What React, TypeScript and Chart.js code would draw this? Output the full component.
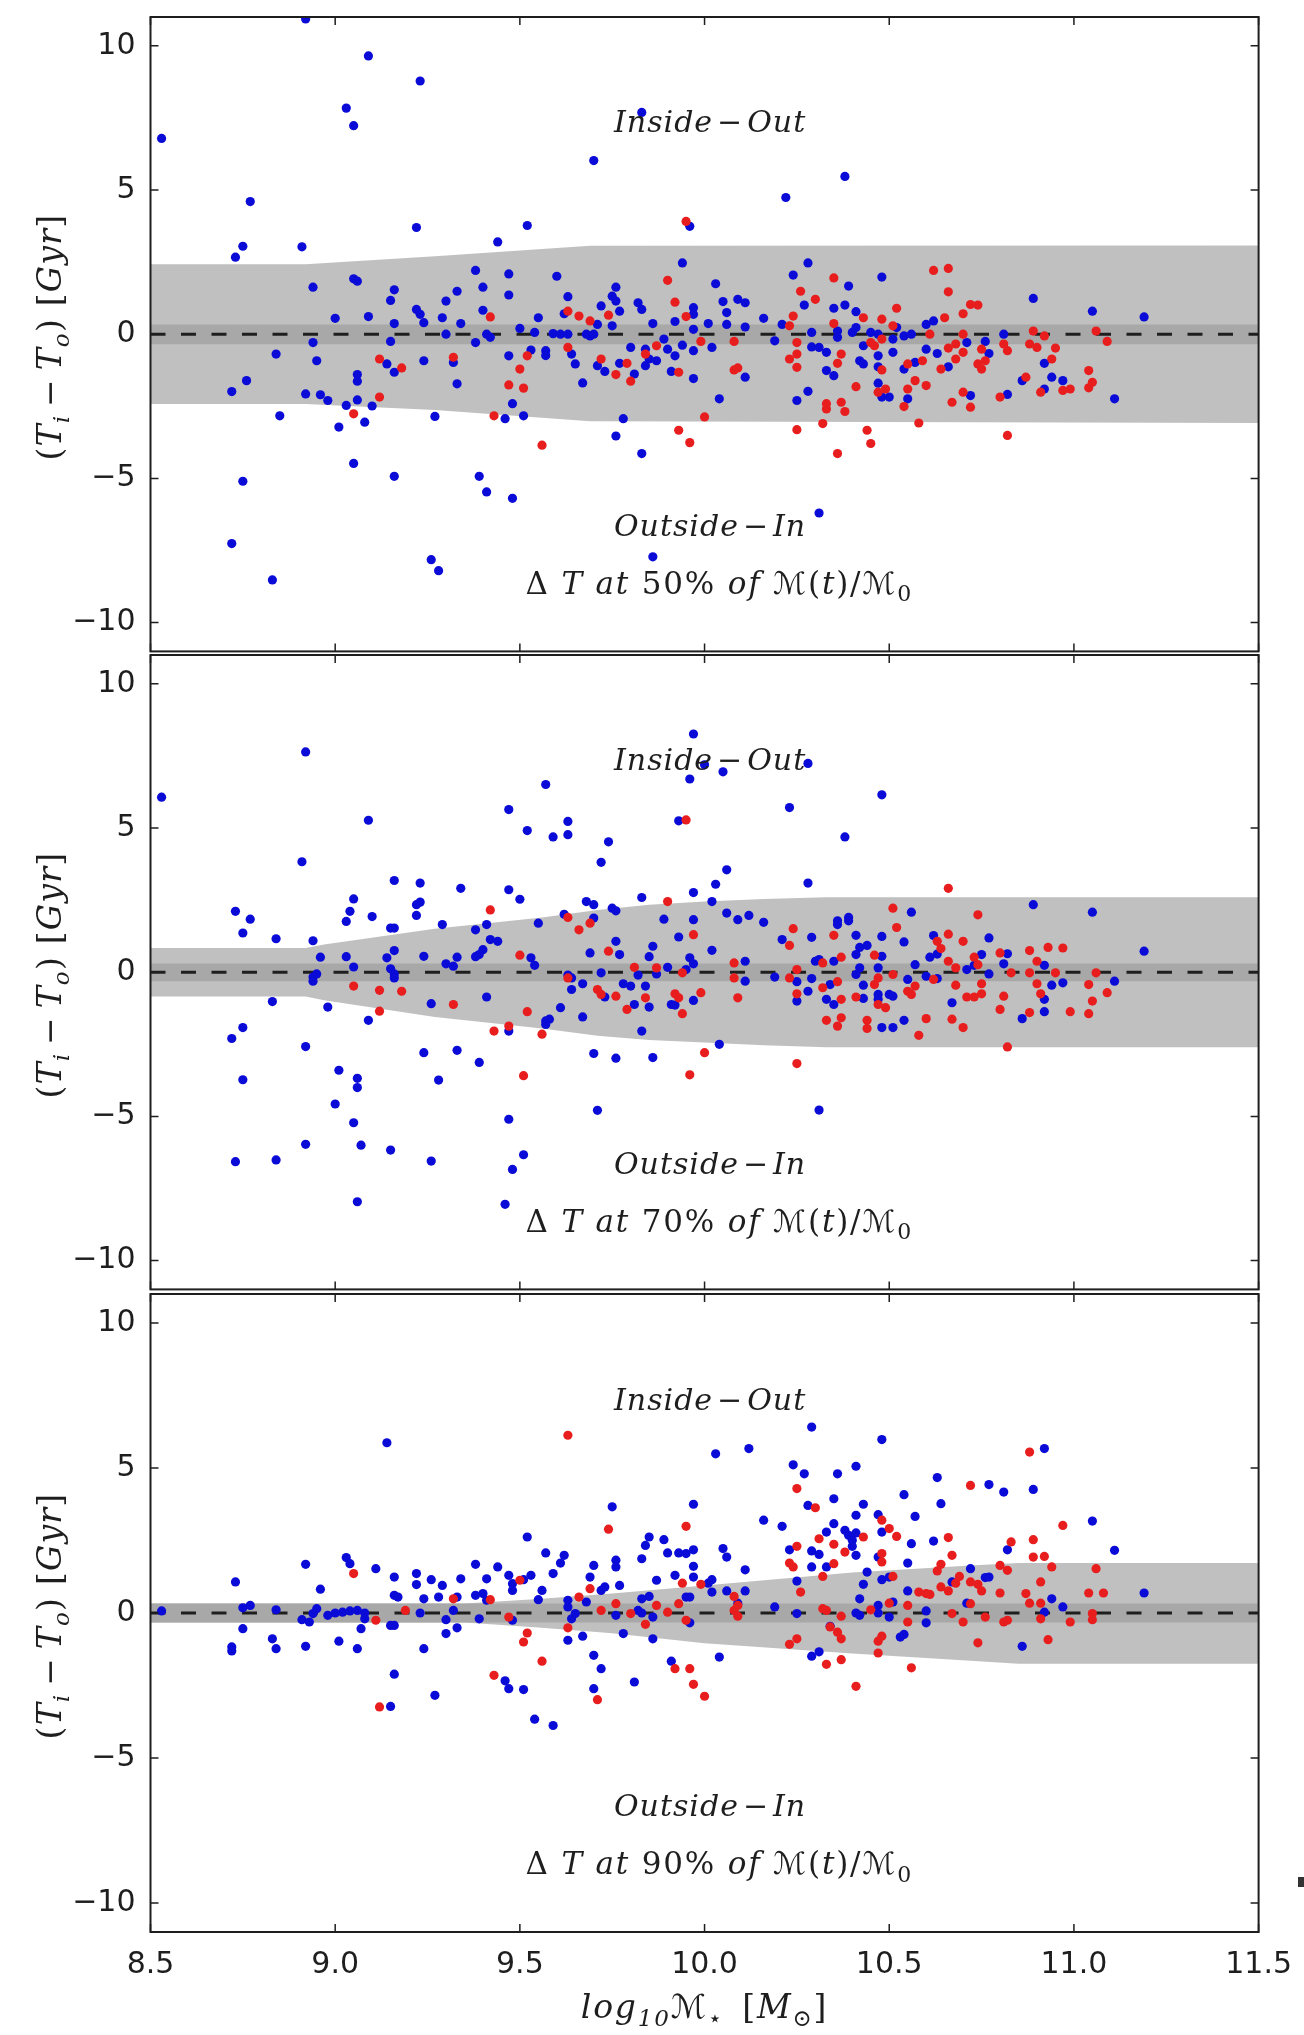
import React, { useEffect, useRef } from 'react';
import { Chart, registerables } from 'chart.js';

Chart.register(...registerables);

type Pt = [number, number];

// ---------------- axes ----------------
const X_MIN = 8.5;
const X_MAX = 11.5;
const Y_MIN = -11;
const Y_MAX = 11;
const X_TICKS = [8.5, 9.0, 9.5, 10.0, 10.5, 11.0, 11.5];
const X_TICK_LABELS = ['8.5', '9.0', '9.5', '10.0', '10.5', '11.0', '11.5'];
const Y_TICKS = [-10, -5, 0, 5, 10];
const Y_TICK_LABELS = ['\u221210', '\u22125', '0', '5', '10'];
const FRACTION_LABELS = ['50%', '70%', '90%'];

// ---------------- shaded bands ----------------
const P1_BAND_X = [8.5, 8.92, 9.27, 9.69, 11.5];
const P1_BAND_UP = [2.43, 2.43, 2.7, 3.07, 3.08];
const P1_BAND_LO = [-2.42, -2.42, -2.63, -3.02, -3.08];
const P1_INNER = [0.34, -0.35];

const P2_BAND_X = [8.5, 8.92, 8.97, 9.27, 9.56, 9.71, 9.85, 10.0, 10.16, 10.33, 11.5];
const P2_BAND_UP = [0.84, 0.84, 0.96, 1.51, 1.9, 2.16, 2.34, 2.45, 2.54, 2.6, 2.6];
const P2_BAND_LO = [-0.84, -0.84, -0.97, -1.55, -1.95, -2.2, -2.35, -2.44, -2.53, -2.6, -2.6];
const P2_INNER = [0.3, -0.31];

const P3_BAND_X = [8.5, 9.35, 9.55, 9.75, 10.0, 10.4, 10.72, 10.85, 11.5];
const P3_BAND_UP = [0.33, 0.33, 0.48, 0.67, 0.95, 1.4, 1.64, 1.72, 1.72];
const P3_BAND_LO = [-0.33, -0.33, -0.5, -0.7, -1.04, -1.4, -1.65, -1.75, -1.75];
const P3_INNER = [0.33, -0.33];

// ---------------- scatter points: [log10 M*, Ti - To] ----------------
const P1_BLUE: Pt[] = [
  [8.92, 10.93], [8.53, 6.79], [9.09, 9.65], [9.23, 8.78], [9.03, 7.84], [9.05, 7.23], [9.83, 7.69], [9.70, 6.02], [8.77, 4.60], [10.22, 4.74], [10.38, 5.47],
  [8.75, -5.10], [9.16, -4.93], [9.39, -4.93], [9.41, -5.47], [9.48, -5.69], [8.72, -7.26], [9.26, -7.82], [9.28, -8.20], [8.83, -8.52], [9.86, -7.72], [10.31, -6.20],
  [8.73, 2.67], [8.75, 3.05], [8.91, 3.03], [9.22, 3.70], [9.52, 3.77], [9.44, 3.20], [8.94, 1.63], [9.05, 1.92], [9.06, 1.84], [9.00, 0.55], [9.09, 0.61], [8.84, -0.69], [8.94, -0.29], [8.95, -0.92], [8.76, -1.61], [8.72, -1.99], [8.85, -2.83], [8.92, -2.07], [8.96, -2.10], [8.98, -2.30], [9.03, -2.47], [9.06, -2.28], [9.06, -1.40], [9.06, -1.63], [9.10, -2.49], [9.08, -3.05], [9.01, -3.22], [9.05, -4.48],
  [9.16, 1.54], [9.15, 1.17], [9.16, 0.37], [9.15, -0.25], [9.14, -1.03], [9.16, -1.32], [9.22, 0.86], [9.23, 0.69], [9.24, 0.40], [9.24, -0.92], [9.27, -2.85], [9.29, 0.57], [9.30, 1.15], [9.33, 1.49], [9.34, 0.37], [9.30, 0.00], [9.32, -0.98], [9.33, -1.72],
  [9.38, 2.21], [9.40, 1.63], [9.40, 0.83], [9.38, -0.29], [9.41, 0.00], [9.42, -0.11], [9.47, 2.09], [9.47, 1.36], [9.47, -0.75], [9.46, -2.93], [9.48, -2.41], [9.51, -2.83], [9.50, 0.20], [9.54, 0.06], [9.53, -0.55], [9.55, 0.57], [9.57, -0.57], [9.57, -0.74],
  [9.60, 2.01], [9.63, 1.30], [9.62, 0.71], [9.59, 0.02], [9.61, 0.00], [9.63, 0.00], [9.64, -0.69], [9.65, -1.03], [9.67, -1.69], [9.68, 0.00], [9.69, -0.06], [9.70, 0.00], [9.72, 0.98], [9.71, 0.34], [9.71, -1.09], [9.73, -1.29], [9.75, 0.29], [9.76, 1.63], [9.75, 1.32], [9.76, 1.15], [9.77, 0.80], [9.80, -0.46], [9.77, -1.01], [9.81, -1.38], [9.78, -2.93], [9.76, -3.53], [9.83, -4.14],
  [9.82, 1.09], [9.83, 0.86], [9.86, 0.37], [9.84, -0.52], [9.85, -0.86], [9.84, -1.09], [9.87, -0.92], [9.89, -0.17], [9.90, -0.52], [9.92, -0.75], [9.91, -1.29], [9.92, 0.44], [9.94, 2.47], [9.97, 0.92], [9.97, 0.69], [9.97, 0.17], [9.94, -0.38], [9.97, -0.57], [9.97, -1.54], [10.01, 0.37], [9.96, 3.74],
  [10.03, 1.75], [10.05, 1.13], [10.06, 0.75], [10.09, 1.21], [10.11, 1.09], [10.06, 0.34], [10.11, 0.25], [10.16, 0.55], [10.21, 0.34], [10.19, -0.23], [10.02, -0.46], [10.11, -1.49], [10.04, -2.24], [10.24, 2.05], [10.28, 2.47], [10.27, 1.01], [10.29, 0.06], [10.29, -0.44], [10.31, -0.46], [10.33, -0.63], [10.33, -1.26], [10.35, -1.44], [10.28, -1.98], [10.25, -2.30],
  [10.35, 0.90], [10.38, 1.01], [10.39, 1.67], [10.41, 0.78], [10.36, 0.11], [10.36, -0.11], [10.40, 0.06], [10.41, 0.23], [10.45, 0.06], [10.47, 0.00], [10.48, 1.98], [10.42, -0.92], [10.43, -1.03], [10.43, -0.40], [10.47, -0.75], [10.47, -1.13], [10.51, -0.63], [10.52, 0.23], [10.51, -0.17], [10.54, -0.06], [10.56, 0.00], [10.47, -1.70], [10.48, -2.18], [10.50, -2.18], [10.54, -1.21], [10.55, -2.24], [10.57, -0.98],
  [10.60, 0.34], [10.62, 0.46], [10.60, -0.52], [10.63, -0.67], [10.66, -1.13], [10.71, -0.29], [10.76, -0.25], [10.77, -0.67], [10.81, 0.00], [10.82, -2.09], [10.72, -2.13], [10.86, -1.61], [10.89, 1.24], [10.92, -1.01], [10.94, -1.49], [10.92, -1.90], [10.97, -1.61], [11.05, 0.80], [11.11, -2.24], [11.19, 0.60],
];

const P1_RED: Pt[] = [
  [9.95, 3.91], [9.42, 0.60], [9.12, -0.86], [9.18, -1.17], [9.12, -2.18], [9.05, -2.76], [9.32, -0.80], [9.63, 0.80], [9.66, 0.63], [9.69, 0.46], [9.74, 0.66], [9.63, -0.46], [9.52, -0.75], [9.50, -1.21], [9.47, -1.76], [9.51, -1.87], [9.43, -2.83], [9.56, -3.85], [9.72, -0.86], [9.76, -1.40], [9.79, -1.01], [9.80, -1.63], [9.84, -0.69], [9.87, -0.40], [9.90, 1.87], [9.92, 1.11], [9.95, 0.61], [9.99, -0.25], [9.93, -1.32], [10.00, -2.87], [9.93, -3.33], [9.96, -3.76],
  [10.08, -0.25], [10.08, -1.24], [10.09, -1.17], [10.26, 1.49], [10.24, 0.63], [10.23, 0.29], [10.30, 1.21], [10.25, -0.29], [10.25, -0.69], [10.23, -0.86], [10.25, -1.15], [10.35, 1.95], [10.35, 0.37], [10.37, -0.69], [10.36, -1.01], [10.33, -2.41], [10.33, -2.59], [10.37, -2.36], [10.38, -2.68], [10.32, -3.10], [10.25, -3.31], [10.36, -4.14], [10.41, -1.82],
  [10.43, 0.57], [10.48, 0.52], [10.45, -0.29], [10.46, -0.40], [10.48, -0.17], [10.51, 0.29], [10.52, 0.90], [10.48, -1.24], [10.47, -2.01], [10.49, -1.90], [10.44, -3.33], [10.45, -3.79], [10.54, -2.51], [10.55, -1.90], [10.57, -1.61], [10.60, -1.78], [10.58, -3.08], [10.59, -0.92], [10.55, -1.03], [10.61, 0.00],
  [10.62, 2.21], [10.66, 2.28], [10.66, 1.47], [10.65, 0.57], [10.64, -1.21], [10.66, -0.48], [10.68, -0.34], [10.70, 0.00], [10.70, 0.71], [10.68, -0.86], [10.70, -0.63], [10.70, -2.01], [10.72, 1.03], [10.74, 1.01], [10.75, -0.52], [10.74, -1.03], [10.76, -0.92], [10.75, -1.21], [10.67, -2.36], [10.72, -2.53], [10.80, -2.18], [10.81, -0.34], [10.82, -0.57], [10.82, -3.51],
  [10.88, -0.34], [10.89, 0.11], [10.92, -0.06], [10.90, -0.46], [10.95, -0.48], [10.94, -0.86], [10.87, -1.49], [10.91, -2.01], [10.97, -1.95], [10.99, -1.90], [11.04, -1.26], [11.05, -1.67], [11.04, -1.86], [11.06, 0.11], [11.09, -0.25],
];

const P2_BLUE: Pt[] = [
  [8.53, 6.07], [8.92, 7.64], [9.09, 5.27], [9.57, 6.51], [9.47, 5.64], [9.52, 4.91], [9.59, 4.69], [9.63, 4.77], [9.63, 5.23], [9.74, 4.52], [9.97, 8.26], [10.00, 7.19], [10.05, 6.95], [9.96, 6.70], [10.28, 7.24], [10.48, 6.15], [10.23, 5.71], [9.93, 5.25], [10.38, 4.69],
  [9.00, -4.57], [9.05, -5.22], [9.07, -6.00], [8.92, -5.97], [8.73, -6.57], [8.84, -6.51], [9.15, -6.17], [9.26, -6.55], [9.06, -7.96], [9.47, -5.10], [9.51, -6.33], [9.48, -6.84], [9.46, -8.05], [9.71, -4.79], [10.31, -4.78],
  [8.91, 3.83], [9.72, 3.81], [9.16, 3.18], [9.23, 3.09], [9.34, 2.91], [9.47, 2.86], [9.50, 2.53], [9.05, 2.54], [9.04, 2.11], [9.03, 1.76], [9.10, 1.93], [9.22, 2.34], [9.23, 2.43], [9.22, 1.97], [8.73, 2.11], [8.77, 1.84], [8.75, 1.36], [8.84, 1.16], [8.94, 1.09], [8.96, 0.52], [9.03, 0.54], [9.05, 0.18], [8.95, -0.06], [8.94, -0.17], [8.94, -0.31],
  [9.15, 1.53], [9.16, 1.53], [9.16, 0.75], [9.14, 0.50], [9.15, 0.12], [9.16, -0.06], [9.16, -0.20], [9.24, 0.55], [9.29, 1.65], [9.38, 1.47], [9.41, 1.65], [9.42, 1.13], [9.44, 1.07], [9.40, 0.78], [9.39, 0.61], [9.38, 0.54], [9.33, 0.52], [9.30, 0.29], [9.32, 0.21], [9.55, 1.70], [9.53, 0.50], [9.54, 0.24],
  [9.62, 2.01], [9.68, 2.45], [9.70, 2.34], [9.70, 1.88], [9.69, 0.67], [9.63, -0.10], [9.64, -0.20], [9.67, -0.40], [9.64, -0.60], [9.72, -0.02], [9.75, 2.22], [9.76, 2.13], [9.83, 2.59], [9.89, 1.84], [9.93, 1.22], [9.97, 1.82], [9.97, 2.76], [9.86, 0.90], [9.85, 0.54], [9.76, 1.07], [9.77, 0.61], [9.82, -0.10], [9.78, -0.40], [9.80, -0.48], [9.84, -0.48], [9.90, 0.17], [9.87, -0.06], [9.96, 0.50], [9.97, 0.29], [9.95, 0.09],
  [9.81, -1.12], [9.85, -1.21], [9.91, -1.12], [9.92, -1.14], [9.97, -0.98], [9.73, -0.86], [9.61, -1.23], [9.67, -1.55], [9.58, -1.63], [9.57, -1.69], [9.57, -1.81], [9.83, -2.04], [9.47, -2.04], [9.41, -0.86], [9.26, -1.09], [8.98, -1.21], [8.83, -1.02], [8.75, -1.92], [8.72, -2.30], [8.92, -2.58], [9.09, -1.67], [9.24, -2.79], [9.33, -2.71], [9.39, -3.13], [9.01, -3.40], [9.06, -3.68], [9.06, -4.00], [8.75, -3.73], [9.28, -3.74], [9.70, -2.82], [9.76, -2.98], [9.86, -2.96],
  [10.06, 3.55], [10.03, 3.05], [10.02, 2.45], [10.28, 3.09], [10.06, 2.05], [10.09, 1.82], [10.12, 1.97], [10.16, 1.73], [10.02, 0.76], [10.11, 0.38], [10.11, -0.31], [10.19, -0.17], [10.21, 1.13], [10.29, 1.21], [10.25, -0.33], [10.28, -0.66], [10.25, -1.00], [10.29, -0.22], [10.30, 0.38], [10.31, 0.44], [10.35, 0.38], [10.36, 1.65], [10.36, 1.78], [10.39, 1.90], [10.39, 1.78], [10.41, 1.28], [10.42, 0.86], [10.44, 0.93], [10.41, 0.61], [10.42, 0.15], [10.41, -0.08], [10.34, -0.43], [10.33, -0.94], [10.35, -1.12],
  [10.43, -0.45], [10.43, -0.91], [10.47, 0.15], [10.48, 0.55], [10.48, 1.24], [10.47, -0.77], [10.47, -0.94], [10.50, -0.77], [10.51, -0.83], [10.48, -1.92], [10.51, -1.92], [10.54, -1.67], [10.54, 1.05], [10.56, 2.08], [10.55, -0.25], [10.57, 0.26], [10.60, -0.14], [10.61, 0.52], [10.62, 1.27], [10.63, 0.63], [10.63, -0.22], [10.67, -1.06],
  [10.71, 0.09], [10.73, 0.24], [10.75, 0.61], [10.77, 1.19], [10.77, -0.06], [10.81, 0.29], [10.82, 0.64], [10.86, -1.61], [10.89, 2.34], [10.92, 0.24], [10.94, -0.45], [10.92, -0.94], [10.92, -1.37], [10.97, -0.37], [11.05, 2.08], [11.11, -0.31], [11.19, 0.73], [10.04, -2.50],
];

const P2_RED: Pt[] = [
  [9.95, 5.28],
  [9.42, 2.16], [9.63, 1.90], [9.66, 1.47], [9.69, 1.70], [9.50, 0.59], [9.74, 0.73], [9.90, 2.45], [9.97, 1.30], [9.81, 0.17], [9.87, 0.15], [9.94, -0.02], [9.63, -0.20], [9.71, -0.60], [9.72, -0.77], [9.76, -0.83], [9.79, -1.29], [9.84, -0.89], [9.92, -0.75], [9.93, -0.89], [9.94, -1.44], [9.99, -0.71], [10.00, -2.79], [9.96, -3.56], [9.05, -0.48], [9.12, -0.63], [9.18, -0.66], [9.12, -1.35], [9.32, -1.12], [9.52, -1.37], [9.43, -2.04], [9.47, -1.87], [9.56, -2.15], [9.51, -3.59],
  [10.08, 0.32], [10.08, -0.20], [10.09, -0.89], [10.24, 1.51], [10.23, 0.93], [10.25, 0.09], [10.23, -0.20], [10.25, -0.75], [10.35, 1.28], [10.37, 0.52], [10.32, 0.32], [10.32, -0.54], [10.36, -0.33], [10.37, -0.94], [10.33, -1.67], [10.36, -1.87], [10.37, -1.58], [10.44, -1.67], [10.44, -1.95], [10.41, -0.86], [10.46, 0.59], [10.47, -0.20], [10.46, -0.43], [10.47, -1.12], [10.49, -1.23],
  [10.51, 2.22], [10.52, 1.55], [10.51, -0.08], [10.55, -0.66], [10.57, -0.48], [10.56, -0.77], [10.60, -1.61], [10.58, -2.19], [10.62, -0.25], [10.63, 1.07], [10.64, 0.82], [10.66, 1.32], [10.66, 2.91], [10.66, 0.38], [10.68, 0.15], [10.70, 1.07], [10.68, -0.45], [10.67, -1.63], [10.70, -1.92], [10.71, -0.86], [10.73, -0.86],
  [10.74, 1.99], [10.73, 0.52], [10.74, 0.26], [10.75, -0.40], [10.75, -0.75], [10.80, 0.67], [10.81, -0.83], [10.80, -1.29], [10.82, -2.59], [10.83, -0.02], [10.88, -1.40], [10.88, 0.75], [10.90, 0.38], [10.88, -0.02], [10.93, 0.86], [10.97, 0.84], [10.95, -0.02], [10.90, -0.40], [10.91, -0.75], [10.99, -1.37], [11.04, -0.43], [11.05, -1.00], [11.04, -1.44], [11.09, -0.71], [11.06, -0.02], [10.25, -3.17],
];

const P3_BLUE: Pt[] = [
  [9.14, 5.87], [8.53, 0.07], [8.73, 1.07], [8.75, 0.18], [8.77, 0.26], [8.75, -0.54], [8.72, -1.17], [8.72, -1.31], [8.84, 0.11], [8.83, -0.89], [8.84, -1.23], [8.92, 1.68], [8.96, 0.82], [8.91, -0.23], [8.93, -0.31], [8.95, 0.15], [8.94, -0.02], [8.92, -1.15], [8.98, -0.08], [9.00, 0.00], [9.02, 0.03], [9.04, 0.07], [9.06, 0.09], [9.08, 0.00], [9.08, -0.20], [9.01, -0.97], [9.03, 1.91], [9.04, 1.70], [9.07, -0.54], [9.06, -1.23], [9.11, 1.53], [9.16, 1.24], [9.16, 0.61], [9.17, 0.55], [9.15, -0.43], [9.16, -0.43], [9.16, -2.11], [9.15, -3.22],
  [9.22, 1.36], [9.22, 0.98], [9.23, 0.00], [9.24, 0.49], [9.24, -1.23], [9.26, 1.15], [9.29, 0.95], [9.28, 0.55], [9.27, -2.84], [9.34, 1.18], [9.33, 0.55], [9.32, 0.09], [9.30, -0.23], [9.30, -0.71], [9.33, -0.51], [9.38, 1.68], [9.38, 0.61], [9.41, 1.18], [9.40, 0.67], [9.41, 0.44], [9.39, -0.20], [9.44, 1.59], [9.47, 1.30], [9.48, 1.01], [9.48, 0.78], [9.48, -0.25], [9.51, 1.15], [9.53, 1.30], [9.52, 2.62], [9.57, 2.07], [9.56, 0.78], [9.55, 0.46], [9.62, 1.99], [9.61, 1.72], [9.59, 1.36], [9.63, 0.44], [9.63, 0.21], [9.65, -0.02], [9.64, -0.20], [9.63, -0.94], [9.67, -0.80],
  [9.70, 1.64], [9.69, 1.24], [9.72, 0.78], [9.73, 0.90], [9.68, 0.38], [9.75, 3.66], [9.76, 1.82], [9.76, 1.59], [9.77, 0.95], [9.76, -0.08], [9.78, -0.71], [9.83, 1.87], [9.84, 2.33], [9.85, 2.62], [9.89, 2.53], [9.90, 2.07], [9.87, 1.13], [9.85, 0.57], [9.83, 0.49], [9.82, 0.09], [9.83, 0.00], [9.86, -0.14], [9.86, -0.89], [9.92, 1.30], [9.93, 2.07], [9.95, 2.05], [9.97, 2.18], [9.97, 1.61], [9.97, 1.24], [9.97, 3.75], [9.95, 0.55], [9.96, 0.55], [9.96, -0.34], [9.70, -1.46], [9.72, -1.92], [9.70, -2.61], [9.81, -2.38], [9.91, -1.66], [9.51, -2.64], [9.47, -2.61], [9.46, -2.34], [10.01, 1.03], [9.54, -3.66], [9.59, -3.88],
  [10.03, 5.49], [10.12, 5.67], [10.29, 6.41], [10.48, 5.98], [10.24, 5.11], [10.27, 4.80], [10.36, 4.80], [10.41, 5.06], [10.35, 3.94], [10.28, 3.71], [10.43, 3.75], [10.47, 3.39], [10.41, 3.37], [10.54, 4.08], [10.63, 4.67], [10.64, 3.77], [10.57, 3.33], [10.77, 4.43], [10.81, 4.17], [10.89, 4.26], [10.92, 5.67], [11.05, 3.17], [11.11, 2.16], [11.19, 0.69], [10.16, 3.20], [10.21, 2.99],
  [10.05, 2.22], [10.06, 1.93], [10.11, 1.49], [10.02, 1.15], [10.02, 0.72], [10.06, 0.76], [10.11, 0.76], [10.09, 0.34], [10.19, 0.21], [10.25, -0.02], [10.23, 2.18], [10.29, 2.14], [10.31, 2.02], [10.29, 1.59], [10.33, 1.59], [10.25, 1.10], [10.33, 2.79], [10.35, 3.08], [10.38, 2.85], [10.39, 2.68], [10.40, 2.51], [10.40, 2.30], [10.41, 2.76], [10.41, 1.99], [10.47, 1.93], [10.48, 2.79], [10.56, 2.39], [10.62, 2.48], [10.55, 1.72],
  [10.44, 1.41], [10.43, 0.99], [10.42, 0.49], [10.48, 1.15], [10.50, 1.24], [10.55, 0.76], [10.51, 0.38], [10.41, 0.00], [10.42, -0.08], [10.47, 0.26], [10.47, 0.00], [10.50, -0.14], [10.60, 0.07], [10.60, -0.34], [10.34, -0.46], [10.53, -0.83], [10.54, -0.74], [10.29, -1.49], [10.31, -1.34], [10.04, -1.52], [10.67, 1.07], [10.72, 1.53], [10.71, 0.34], [10.76, 1.22], [10.77, 1.24], [10.82, 2.18], [10.94, 0.49], [10.97, 0.21], [10.92, 0.03], [10.86, -1.15],
];

const P3_RED: Pt[] = [
  [9.63, 6.13], [9.05, 1.36], [9.19, 0.09], [9.11, -0.25], [9.32, 0.49], [9.42, 0.46], [9.50, 1.13], [9.47, -0.14], [9.52, -0.69], [9.51, -1.00], [9.56, -1.66], [9.43, -2.15], [9.12, -3.24], [9.66, 0.55], [9.63, -0.51], [9.69, 0.84], [9.72, 0.09], [9.76, 0.32], [9.74, 2.89], [9.80, -0.02], [9.84, -0.39], [9.87, 0.26], [9.90, 0.03], [9.93, 0.32], [9.95, -0.25], [9.94, 1.03], [9.99, 0.99], [9.95, 2.99], [9.92, -1.92], [9.96, -1.92], [9.97, -2.46], [10.00, -2.87], [9.71, -2.99],
  [10.25, 4.29], [10.30, 3.63], [10.31, 2.56], [10.35, 2.37], [10.38, 2.10], [10.35, 1.70], [10.32, 1.26], [10.43, 2.62], [10.48, 3.20], [10.50, 2.91], [10.52, 2.64], [10.48, 2.05], [10.48, 1.76], [10.51, 1.26], [10.66, 2.60], [10.67, 1.99], [10.64, 1.68], [10.63, 1.45], [10.23, 1.72], [10.24, 1.59], [10.25, 2.30], [10.26, 0.72],
  [10.08, 0.57], [10.09, 0.26], [10.08, 0.09], [10.09, -0.11], [10.32, 0.15], [10.33, 0.09], [10.37, -0.11], [10.45, 0.11], [10.50, 0.34], [10.55, 0.26], [10.55, -0.31], [10.34, -0.48], [10.36, -0.66], [10.37, -0.89], [10.48, -0.80], [10.47, -0.97], [10.47, -1.38], [10.25, -0.89], [10.23, -1.08], [10.33, -1.77], [10.37, -1.61], [10.41, -2.53], [10.56, -1.89],
  [10.58, 0.72], [10.60, 0.67], [10.61, 0.64], [10.64, 0.90], [10.66, 0.76], [10.68, 1.03], [10.69, 1.26], [10.72, 1.07], [10.74, 0.99], [10.75, 0.76], [10.72, 0.32], [10.67, -0.02], [10.70, -0.31], [10.76, -0.14], [10.74, -1.03], [10.72, 4.40], [10.80, 1.64], [10.82, 1.47], [10.80, 0.69], [10.83, 2.45], [10.81, -0.31], [10.82, -0.25],
  [10.87, 0.67], [10.88, 0.34], [10.91, 0.34], [10.91, -0.20], [10.88, 5.55], [10.89, 2.53], [10.89, 1.93], [10.92, 1.95], [10.94, 1.59], [10.91, 1.07], [10.93, -0.92], [10.97, 3.02], [10.99, -0.31], [11.04, 0.69], [11.06, 1.53], [11.05, -0.02], [11.05, -0.23], [11.08, 0.69],
];

// ---------------- styling ----------------
const BLUE = '#0b0bd8';
const RED = '#e81e1e';
const LIGHT_GREY = '#c0c0c0';
const DARK_GREY = '#a8a8a8';
const INK = '#1e1e1e';
const TICK_FONT = 'DejaVu Sans';
const MATH_FONT = '"DejaVu Serif", "DejaVu Sans", serif';

const PANELS = [
  { blue: P1_BLUE, red: P1_RED, bx: P1_BAND_X, bu: P1_BAND_UP, bl: P1_BAND_LO, inner: P1_INNER },
  { blue: P2_BLUE, red: P2_RED, bx: P2_BAND_X, bu: P2_BAND_UP, bl: P2_BAND_LO, inner: P2_INNER },
  { blue: P3_BLUE, red: P3_RED, bx: P3_BAND_X, bu: P3_BAND_UP, bl: P3_BAND_LO, inner: P3_INNER },
];

// canvas placement of each panel (page pixels)
const LAYOUT = [
  { top: 0, h: 656, padTop: 17, padBottom: 1, xH: 0, showX: false },
  { top: 640, h: 654, padTop: 15, padBottom: 1, xH: 0, showX: false },
  { top: 1279, h: 756, padTop: 15, padBottom: 0, xH: 103, showX: true },
];
const Y_AXIS_WIDTH = 150.5;
const RIGHT_PAD = 1304 - 1258.6;

type Seg = { t: string; i?: boolean; sub?: boolean };

function drawRich(ctx: CanvasRenderingContext2D, segs: Seg[], x: number, y: number, size: number, ls = 0) {
  const c = ctx as any;
  const fontFor = (s: Seg) => `${s.i ? 'italic ' : ''}${s.sub ? Math.round(size * 0.7) : size}px ${MATH_FONT}`;
  c.letterSpacing = `${ls}px`;
  const widths = segs.map((s) => {
    ctx.font = fontFor(s);
    return ctx.measureText(s.t).width;
  });
  const total = widths.reduce((a, b) => a + b, 0);
  let cx = x - total / 2;
  ctx.textAlign = 'left';
  ctx.textBaseline = 'alphabetic';
  segs.forEach((s, k) => {
    ctx.font = fontFor(s);
    ctx.fillText(s.t, cx, y + (s.sub ? size * 0.25 : 0));
    cx += widths[k];
  });
  c.letterSpacing = '0px';
}

const THIN = '\u2009';
const HAIR = '\u200a';
const EN = '\u2002';
const Y_LABEL: Seg[] = [
  { t: '(' }, { t: 'T', i: true }, { t: 'i', i: true, sub: true }, { t: THIN + '\u2212' + THIN }, { t: 'T', i: true }, { t: 'o', i: true, sub: true }, { t: ') [' }, { t: 'Gyr', i: true }, { t: ']' },
];
const X_LABEL: Seg[] = [
  { t: 'log', i: true }, { t: '10', i: true, sub: true }, { t: '\u2133' }, { t: '\u22c6', sub: true }, { t: EN + '[' }, { t: 'M', i: true }, { t: '\u2299', sub: true }, { t: ']' },
];
const INSIDE_OUT: Seg[] = [{ t: 'Inside', i: true }, { t: HAIR + '\u2212' + HAIR }, { t: 'Out', i: true }];
const OUTSIDE_IN: Seg[] = [{ t: 'Outside', i: true }, { t: HAIR + '\u2212' + HAIR }, { t: 'In', i: true }];
const deltaLabel = (frac: string): Seg[] => [
  { t: '\u0394 ' }, { t: 'T', i: true }, { t: ' at ', i: true }, { t: frac + ' ' }, { t: 'of ', i: true }, { t: '\u2133' }, { t: '(' }, { t: 't', i: true }, { t: ')/' }, { t: '\u2133' }, { t: '0', sub: true },
];

function decorPlugin(p: number) {
  return {
    id: 'decor' + p,
    afterDraw(chart: any) {
      const { ctx, chartArea: a, scales } = chart;
      const xs = scales.x;
      const ys = scales.y;
      ctx.save();
      // frame
      ctx.strokeStyle = INK;
      ctx.lineWidth = 2;
      ctx.strokeRect(a.left, a.top, a.right - a.left, a.bottom - a.top);
      // inward ticks
      ctx.lineWidth = 1.5;
      ctx.beginPath();
      X_TICKS.forEach((v) => {
        const px = xs.getPixelForValue(v);
        ctx.moveTo(px, a.top);
        ctx.lineTo(px, a.top + 8);
        ctx.moveTo(px, a.bottom);
        ctx.lineTo(px, a.bottom - 8);
      });
      Y_TICKS.forEach((v) => {
        const py = ys.getPixelForValue(v);
        ctx.moveTo(a.left, py);
        ctx.lineTo(a.left + 8, py);
        ctx.moveTo(a.right, py);
        ctx.lineTo(a.right - 8, py);
      });
      ctx.stroke();
      // annotations
      ctx.fillStyle = INK;
      drawRich(ctx, INSIDE_OUT, xs.getPixelForValue(10.015), ys.getPixelForValue(7), 30, 1);
      drawRich(ctx, OUTSIDE_IN, xs.getPixelForValue(10.015), ys.getPixelForValue(-7), 30, 1);
      drawRich(ctx, deltaLabel(FRACTION_LABELS[p]), xs.getPixelForValue(10.04), ys.getPixelForValue(-9), 31, 1.8);
      // y label
      ctx.save();
      ctx.translate(61, (a.top + a.bottom) / 2 + 3);
      ctx.rotate(-Math.PI / 2);
      drawRich(ctx, Y_LABEL, 0, 0, 33, 1.2);
      ctx.restore();
      if (p === 2) {
        drawRich(ctx, X_LABEL, (a.left + a.right) / 2, a.bottom + 86, 33, 1.8);
      }
      ctx.restore();
    },
  };
}

const toXY = (xs: number[], ys: number[]) => xs.map((x, i) => ({ x, y: ys[i] }));
const ptsXY = (pts: Pt[]) => pts.map(([x, y]) => ({ x, y }));

function buildConfig(p: number): any {
  const d = PANELS[p];
  const L = LAYOUT[p];
  const band = (data: any[], color: string, fill: any, order: number) => ({
    type: 'line', data, fill, backgroundColor: color, borderColor: 'rgba(0,0,0,0)', borderWidth: 0, pointRadius: 0, tension: 0, order,
  });
  return {
    type: 'scatter',
    data: {
      datasets: [
        band(toXY(d.bx, d.bu), LIGHT_GREY, '+1', 6),
        band(toXY(d.bx, d.bl), LIGHT_GREY, false, 6),
        band(toXY([X_MIN, X_MAX], [d.inner[0], d.inner[0]]), DARK_GREY, '+1', 5),
        band(toXY([X_MIN, X_MAX], [d.inner[1], d.inner[1]]), DARK_GREY, false, 5),
        {
          type: 'line', data: toXY([X_MIN, X_MAX], [0, 0]), borderColor: INK, borderWidth: 3, borderDash: [15, 15.5], pointRadius: 0, fill: false, order: 4,
        },
        { data: ptsXY(d.blue), backgroundColor: BLUE, borderColor: BLUE, borderWidth: 0, pointRadius: 4.6, pointHoverRadius: 4.6, order: 2 },
        { data: ptsXY(d.red), backgroundColor: RED, borderColor: RED, borderWidth: 0, pointRadius: 4.6, pointHoverRadius: 4.6, order: 1 },
      ],
    },
    options: {
      animation: false,
      responsive: false,
      maintainAspectRatio: false,
      devicePixelRatio: 1,
      events: [],
      layout: { padding: { left: 0, right: RIGHT_PAD, top: L.padTop, bottom: L.padBottom } },
      plugins: { legend: { display: false }, tooltip: { enabled: false } },
      scales: {
        x: {
          type: 'linear',
          min: X_MIN,
          max: X_MAX,
          grid: { display: false },
          border: { display: false },
          ticks: {
            display: L.showX, padding: 7, color: INK, maxRotation: 0, autoSkip: false,
            font: { family: TICK_FONT, size: 30 },
            callback: (_v: any, i: number) => X_TICK_LABELS[i],
          },
          afterBuildTicks: (s: any) => { s.ticks = X_TICKS.map((value) => ({ value })); },
          afterFit: (s: any) => {
            s.height = L.xH;
            s.paddingLeft = 0;
            s.paddingRight = 0;
          },
        },
        y: {
          type: 'linear',
          min: Y_MIN,
          max: Y_MAX,
          grid: { display: false },
          border: { display: false },
          ticks: {
            padding: 7, color: INK,
            font: { family: TICK_FONT, size: 30 },
            callback: (_v: any, i: number) => Y_TICK_LABELS[i],
          },
          afterBuildTicks: (s: any) => { s.ticks = Y_TICKS.map((value) => ({ value })); },
          afterFit: (s: any) => {
            s.width = Y_AXIS_WIDTH;
            s.paddingTop = 0;
            s.paddingBottom = 0;
          },
        },
      },
    },
    plugins: [decorPlugin(p)],
  };
}

function Panel({ p }: { p: number }) {
  const ref = useRef<HTMLCanvasElement | null>(null);
  const L = LAYOUT[p];
  useEffect(() => {
    if (!ref.current) return;
    const chart = new Chart(ref.current, buildConfig(p));
    return () => chart.destroy();
  }, [p]);
  return (
    <canvas
      ref={ref}
      width={1304}
      height={L.h}
      style={{ position: 'absolute', left: 0, top: L.top, width: 1304, height: L.h }}
    />
  );
}

export default function App() {
  return (
    <div style={{ position: 'absolute', left: 0, top: 0, width: 1304, height: 2035, background: '#ffffff', overflow: 'hidden' }}>
      {[0, 1, 2].map((p) => (
        <Panel key={p} p={p} />
      ))}
      <div style={{ position: 'absolute', left: 1298, top: 1877, width: 6, height: 10, background: '#333' }} />
    </div>
  );
}
